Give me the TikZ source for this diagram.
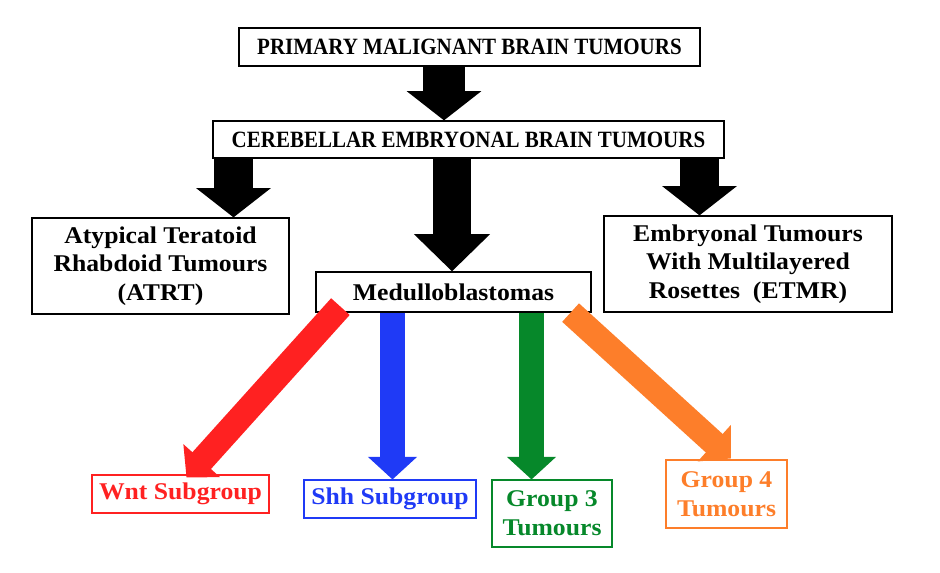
\documentclass[tikz,border=0pt]{standalone}
\usepackage{fontspec}
\setmainfont{Liberation Serif}
\newfontfamily\boxfont[FakeStretch=1.07]{Liberation Serif}
\newfontfamily\headfont[FakeStretch=0.9]{Liberation Serif}
\usetikzlibrary{arrows.meta,calc}

\definecolor{wntred}{RGB}{255,33,33}
\definecolor{shhblue}{RGB}{31,58,246}
\definecolor{grpgreen}{RGB}{6,136,42}
\definecolor{grporange}{RGB}{253,126,42}

\begin{document}
\begin{tikzpicture}[x=0.75pt,y=-0.75pt]
\tikzstyle{box}=[
	draw, line width=0.9pt,
	inner sep=0pt, align=center,
	font=\boxfont\fontsize{18}{21.5}\selectfont\bfseries ]
\tikzstyle{headbox}=[box,
	font=\headfont\fontsize{17.5}{21}\selectfont\bfseries ]
\tikzstyle{colbox}=[box, line width=0.8pt]
\tikzstyle{bigarrow}=[
	line width=29pt,
	-{Triangle[length=22pt,width=55pt]} ]
\tikzstyle{subarrow}=[
	line width=18.75pt,
	-{Triangle[length=17pt,width=36pt]} ]
\useasboundingbox (0,0) rectangle (940,572);

% boxes
\node[headbox, minimum width=345.75pt, minimum height=28.5pt] (primary) at (469.5,47)
	{PRIMARY MALIGNANT BRAIN TUMOURS};
\node[headbox, minimum width=383.25pt, minimum height=27.75pt] (cereb) at (468.5,139.5)
	{CEREBELLAR EMBRYONAL BRAIN TUMOURS};
\node[box, minimum width=192.75pt, minimum height=72pt] (atrt) at (160.5,266)
	{Atypical Teratoid\\Rhabdoid Tumours\\(ATRT)};
\node[box, minimum width=206.25pt, minimum height=30pt] (medullo) at (453.5,292)
	{Medulloblastomas};
\node[box, minimum width=216pt, minimum height=72pt] (etmr) at (748,264)
	{Embryonal Tumours\\With Multilayered\\Rosettes~~(ETMR)};

\node[colbox, draw=wntred, text=wntred, minimum width=132.75pt, minimum height=28.5pt]
	(wnt) at (180.5,494) {Wnt Subgroup};
\node[colbox, draw=shhblue, text=shhblue, minimum width=129pt, minimum height=28.5pt]
	(shh) at (390,499) {Shh Subgroup};
\node[colbox, draw=grpgreen, text=grpgreen, minimum width=90pt, minimum height=50.25pt]
	(grp3) at (552,513.5) {Group 3\\Tumours};
\node[colbox, draw=grporange, text=grporange, minimum width=90.75pt, minimum height=51pt]
	(grp4) at (726.5,494) {Group 4\\Tumours};

% black arrows
\draw[bigarrow, line width=31.5pt] (primary.south -| 444,0) -- (cereb.north -| 444,0);
\draw[bigarrow] (cereb.south -| 233.5,0) -- (atrt.north -| 233.5,0);
\draw[bigarrow, -{Triangle[length=28pt,width=55.5pt]}] (cereb.south -| 452,0) -- (medullo.north -| 452,0);
\draw[bigarrow] (cereb.south -| 699.5,0) -- (etmr.north -| 699.5,0);

% subgroup arrows
\draw[subarrow, wntred] ($(medullo.south west)+(25,-6)$) -- ($(wnt.north)+(6,3)$);
\draw[subarrow, shhblue] (medullo.south -| 392.5,0) -- (shh.north -| 392.5,0);
\draw[subarrow, grpgreen] (medullo.south -| 531.5,0) -- (grp3.north -| 531.5,0);
\draw[subarrow, grporange] ($(medullo.south east)+(-21,0)$) -- ($(grp4.north)+(4.5,-1)$);
\end{tikzpicture}
\end{document}
